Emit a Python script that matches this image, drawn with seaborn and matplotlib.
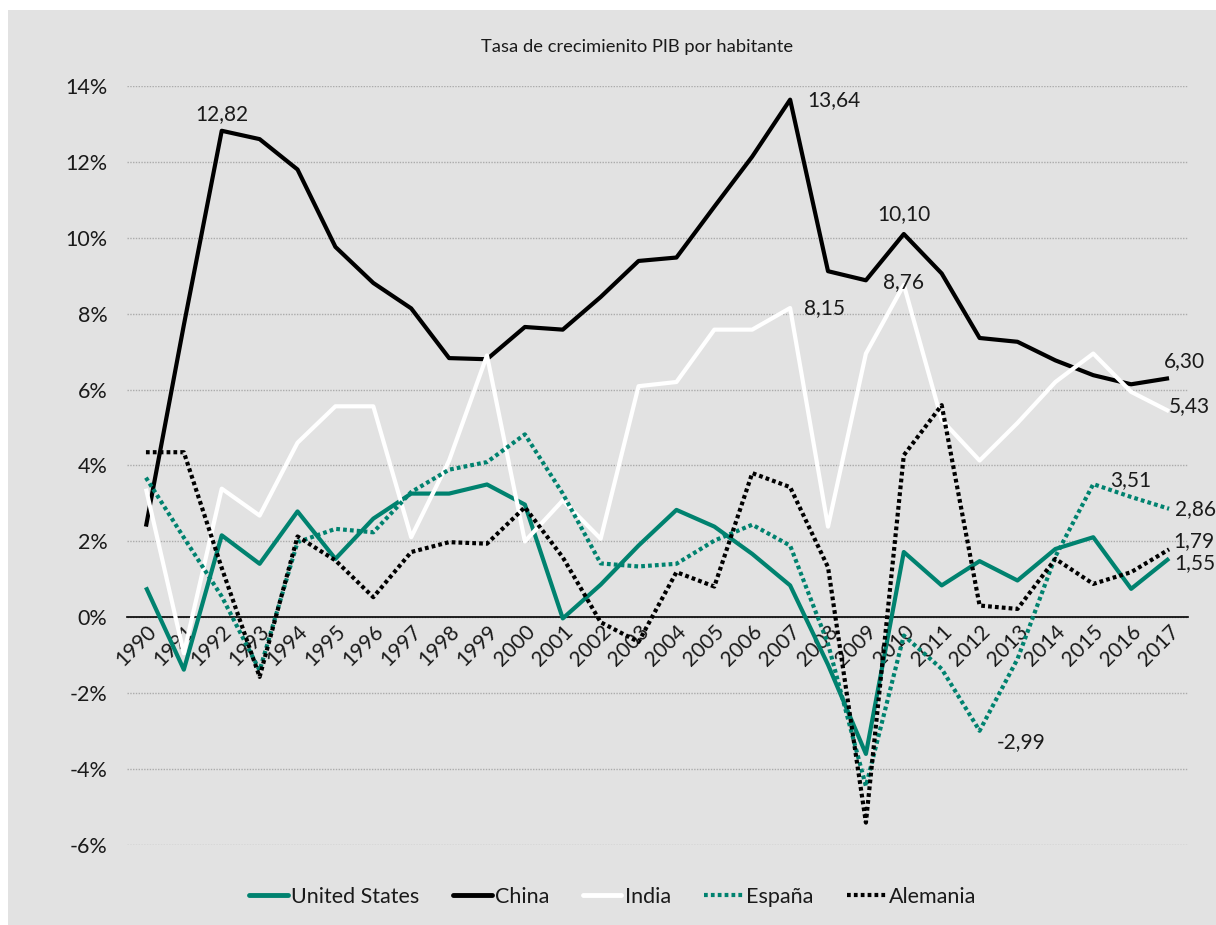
import matplotlib
matplotlib.use("Agg")
import matplotlib.pyplot as plt
import seaborn as sns
import pandas as pd
from matplotlib.patches import Rectangle
from matplotlib.lines import Line2D

# Tasa de crecimiento del PIB por habitante (%), 1990-2017
years = list(range(1990, 2018))
united_states = [0.79, -1.38, 2.16, 1.41, 2.79, 1.54, 2.60, 3.26, 3.26, 3.50,
                 2.97, -0.03, 0.86, 1.89, 2.83, 2.39, 1.67, 0.84, -1.25, -3.60,
                 1.72, 0.84, 1.48, 0.97, 1.80, 2.11, 0.75, 1.55]
china = [2.39, 7.70, 12.82, 12.60, 11.80, 9.76, 8.81, 8.14, 6.83, 6.80,
         7.65, 7.58, 8.44, 9.39, 9.48, 10.82, 12.14, 13.64, 9.12, 8.88,
         10.10, 9.06, 7.36, 7.26, 6.77, 6.38, 6.14, 6.30]
india = [3.39, -0.95, 3.39, 2.68, 4.60, 5.56, 5.56, 2.11, 4.13, 6.90,
         2.00, 3.08, 2.07, 6.09, 6.20, 7.58, 7.58, 8.15, 2.39, 6.95,
         8.76, 5.20, 4.13, 5.12, 6.20, 6.95, 5.94, 5.43]
espana = [3.68, 2.10, 0.55, -1.40, 1.98, 2.33, 2.24, 3.30, 3.89, 4.09,
          4.82, 3.26, 1.42, 1.34, 1.41, 2.02, 2.44, 1.89, -0.70, -4.45,
          -0.48, -1.36, -2.99, -1.10, 1.60, 3.51, 3.17, 2.86]
alemania = [4.35, 4.35, 1.30, -1.57, 2.13, 1.50, 0.53, 1.72, 1.98, 1.94,
            2.90, 1.58, -0.13, -0.65, 1.19, 0.81, 3.80, 3.43, 1.32, -5.41,
            4.27, 5.59, 0.31, 0.22, 1.54, 0.88, 1.19, 1.79]

series_names = ["United States", "China", "India", "España", "Alemania"]
series_values = [united_states, china, india, espana, alemania]

# labelled points: (series, year, text, offset in points, ha, va)
labels = [
    ("China", 1992, "12,82", (0, 5), "center", "bottom"),
    ("China", 2007, "13,64", (12, 0), "left", "center"),
    ("China", 2010, "10,10", (0, 7), "center", "bottom"),
    ("India", 2010, "8,76", (0, 2), "center", "center"),
    ("India", 2007, "8,15", (10, 0), "left", "center"),
    ("China", 2017, "6,30", (-4, 5), "left", "bottom"),
    ("India", 2017, "5,43", (0, 4), "left", "center"),
    ("España", 2015, "3,51", (12, 3), "left", "center"),
    ("España", 2017, "2,86", (4, 0), "left", "center"),
    ("Alemania", 2017, "1,79", (3, 6), "left", "center"),
    ("United States", 2017, "1,55", (4, -3), "left", "center"),
    ("España", 2012, "-2,99", (12, -8), "left", "center"),
]

teal = "#00826f"
styles = {
    "United States": dict(color=teal, linestyle="-"),
    "China": dict(color="black", linestyle="-"),
    "India": dict(color="white", linestyle="-"),
    "España": dict(color=teal, linestyle=(0, (0.9, 0.75))),
    "Alemania": dict(color="black", linestyle=(0, (0.9, 0.75))),
}

df = pd.DataFrame({"year": years})
for name, vals in zip(series_names, series_values):
    df[name] = vals

sns.set_theme(style="white")
plt.rcParams["font.family"] = ["Lato", "DejaVu Sans"]

fig = plt.figure(figsize=(12.16, 9.25), dpi=100, facecolor="white")
bg = "#e2e2e2"
fig.patches.append(Rectangle((8 / 1216, 0), 1, 1 - 10 / 925, transform=fig.transFigure,
                             facecolor=bg, edgecolor="none", zorder=-10))
ax = fig.add_axes([127 / 1216, 1 - 845 / 925, 1061 / 1216, 759 / 925])
ax.set_zorder(1)
ax.set_facecolor(bg)

for name in series_names:
    sns.lineplot(data=df, x="year", y=name, ax=ax, linewidth=3.0,
                 solid_capstyle="butt", dash_capstyle="butt", **styles[name])

for name, yr, txt, off, ha, va in labels:
    yv = df.loc[df["year"] == yr, name].iloc[0]
    ax.annotate(txt, (yr, yv), xytext=off, textcoords="offset points",
                ha=ha, va=va, fontsize=15, color="#1a1a1a")

# move the axis line to zero first: set_position resets the tick labels
for s in ["top", "right", "left"]:
    ax.spines[s].set_visible(False)
ax.spines["bottom"].set_position(("data", 0))
ax.spines["bottom"].set_color("black")
ax.spines["bottom"].set_linewidth(1.2)
ax.spines["bottom"].set_zorder(1.5)

ax.set_xlim(1989.5, 2017.5)
ax.set_ylim(-6, 14)
ax.set_yticks(range(-6, 15, 2))
ax.set_yticklabels([f"{v}%" for v in range(-6, 15, 2)], fontsize=15.5, color="#1a1a1a")
ax.set_xticks(years)
ax.set_xticklabels([str(y) for y in years], rotation=45, ha="right",
                   rotation_mode="anchor", fontsize=15, color="#1a1a1a")
ax.tick_params(axis="both", length=0)
ax.tick_params(axis="y", pad=14)
ax.tick_params(axis="x", pad=3)
ax.set_xlabel("")
ax.set_ylabel("")

ax.yaxis.grid(True, color="#ababab", linestyle=(0, (1, 1)), linewidth=1.0)
ax.set_axisbelow(True)

fig.text(0.524, 1 - 47 / 925, "Tasa de crecimienito PIB por habitante",
         ha="center", va="center", fontsize=13.2, color="#1a1a1a")

handles = [Line2D([0], [0], linewidth=3.5 if styles[n]["linestyle"] == "-" else 3.0,
                  solid_capstyle="round", **styles[n]) for n in series_names]
fig.legend(handles, series_names, loc="center", bbox_to_anchor=(0.504, 1 - 897 / 925),
           ncol=5, frameon=False, fontsize=15.5, handlelength=1.8,
           handletextpad=0.15, columnspacing=1.55, labelcolor="#1a1a1a")

fig.savefig("out.png", dpi=100, facecolor="white")
